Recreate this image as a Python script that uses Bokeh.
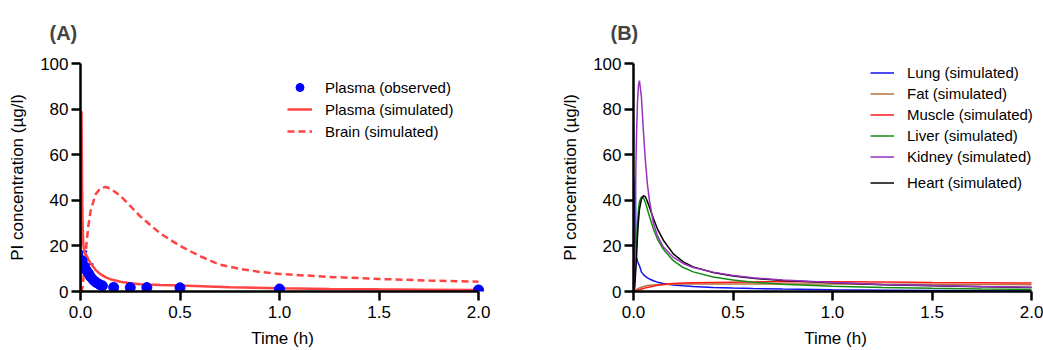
from bokeh.plotting import figure
from bokeh.layouts import row
from bokeh.models import (Legend, LegendItem, Whisker, TeeHead, ColumnDataSource,
                          Range1d, FixedTicker, PrintfTickFormatter)
from bokeh.embed import file_html
from bokeh.resources import INLINE

# ---------------- data: panel A ----------------
obs_t = [0.0083, 0.0167, 0.0283, 0.04, 0.05, 0.065, 0.0783, 0.095, 0.11, 0.1667, 0.25, 0.3333, 0.5, 1.0, 2.0]
obs_c = [13.5, 11.2, 9.4, 8.0, 6.5, 5.0, 4.0, 3.1, 2.5, 1.8, 1.7, 1.7, 1.6, 1.1, 0.7]
err_t = [0.0083, 0.04]
err_lo = [13.5, 8.0]
err_hi = [17.5, 12.0]

plasma_t = [0, 0.002, 0.004, 0.005, 0.006, 0.008, 0.01, 0.0125, 0.015, 0.02, 0.03, 0.04, 0.05,
            0.075, 0.1, 0.125, 0.15, 0.2, 0.25, 0.3, 0.4, 0.5, 0.75, 1.0, 1.25, 1.5, 1.75, 2.0]
plasma_c = [0, 35, 72, 79, 68, 45, 32, 24, 20, 17.2, 15.8, 14.0, 12.5,
            9.5, 7.6, 6.3, 5.4, 4.3, 3.6, 3.2, 2.8, 2.6, 1.9, 1.45, 1.15, 0.95, 0.8, 0.65]

brain_t = [0, 0.006, 0.01, 0.015, 0.02, 0.03, 0.04, 0.05, 0.075, 0.1, 0.125, 0.15, 0.2, 0.25, 0.3,
           0.4, 0.5, 0.6, 0.7, 0.8, 0.9, 1.0, 1.25, 1.5, 1.75, 2.0]
brain_c = [0, 0, 2, 6, 11, 21, 29, 35, 42.5, 45.3, 45.8, 45.2, 42, 37.5, 33,
           25.5, 20, 15.5, 11.8, 9.9, 8.6, 7.7, 6.4, 5.5, 4.8, 4.3]

# ---------------- data: panel B ----------------
tis_t = [0, 0.003, 0.006, 0.009, 0.012, 0.015, 0.02, 0.025, 0.03, 0.04, 0.05, 0.06, 0.07, 0.08, 0.1, 0.12,
         0.15, 0.2, 0.25, 0.3, 0.4, 0.5, 0.6, 0.75, 1.0, 1.25, 1.5, 1.75, 2.0]
lung = [0, 5, 35, 50, 22, 15, 13.3, 12.3, 11.3, 8.5, 7.4, 6.6, 6.0, 5.5, 4.7, 4.1,
        3.5, 2.9, 2.5, 2.2, 1.8, 1.5, 1.3, 1.05, 0.75, 0.55, 0.4, 0.3, 0.2]
fat = [0, 0, 0.3, 0.5, 0.7, 0.9, 1.2, 1.4, 1.6, 1.9, 2.2, 2.4, 2.6, 2.7, 2.9, 3.0,
       3.1, 3.2, 3.25, 3.3, 3.3, 3.3, 3.3, 3.3, 3.25, 3.2, 3.15, 3.1, 3.0]
muscle = [0, 0, 0.05, 0.12, 0.2, 0.35, 0.5, 0.65, 0.8, 1.1, 1.3, 1.6, 1.8, 2.0, 2.3, 2.7,
          3.1, 3.5, 3.7, 3.85, 4.0, 4.1, 4.2, 4.3, 4.3, 4.2, 4.0, 3.85, 3.7]
liver = [0, 0, 3, 9, 15, 21, 30, 36, 39.5, 41.5, 41, 39, 36, 33, 27.5, 23,
         18.5, 13.5, 10.5, 8.6, 6.4, 5.0, 4.1, 3.2, 2.3, 1.8, 1.4, 1.1, 0.9]
kidney = [0, 2, 15, 35, 55, 68, 83, 90.5, 92.5, 85, 70, 57, 47, 40, 30, 24.5,
          19.5, 15, 12.3, 10.5, 8.5, 7.0, 6.0, 5.0, 3.9, 3.1, 2.6, 2.2, 1.9]
heart = [0, 0, 2, 6, 10, 15, 24, 31, 36, 40.5, 42, 41.5, 39.5, 37, 32, 27.5,
         22.5, 16.5, 13, 10.8, 8.3, 6.8, 5.8, 4.8, 3.8, 3.0, 2.5, 2.1, 1.8]

x_ticks = [0, 0.5, 1.0, 1.5, 2.0]
y_ticks = [0, 20, 40, 60, 80, 100]

FONT = "Liberation Sans"


def make_fig(width, left, right, title, offset):
    p = figure(width=width, height=350, x_range=Range1d(0, 2.03), y_range=Range1d(0, 100),
               output_backend="svg", toolbar_location=None,
               min_border_left=left, min_border_right=right,
               min_border_top=63, min_border_bottom=59)
    p.outline_line_color = None
    p.xgrid.visible = False
    p.ygrid.visible = False
    p.title.text = title
    p.title.align = "left"
    p.title.vertical_align = "middle"
    p.title.text_font = FONT
    p.title.text_font_size = "20px"
    p.title.text_font_style = "bold"
    p.title.standoff = 38
    p.title.offset = offset
    p.xaxis.axis_label = "Time (h)"
    p.yaxis.axis_label = "PI concentration (µg/l)"
    p.xaxis.ticker = FixedTicker(ticks=x_ticks)
    p.yaxis.ticker = FixedTicker(ticks=y_ticks)
    p.xaxis.formatter = PrintfTickFormatter(format="%.1f")
    p.xaxis.bounds = (0, 2)
    for ax in (p.xaxis[0], p.yaxis[0]):
        ax.axis_line_width = 2.5
        ax.axis_line_color = "black"
        ax.major_tick_line_width = 2.5
        ax.major_tick_line_color = "black"
        ax.major_tick_out = 9
        ax.major_tick_in = 0
        ax.minor_tick_out = 0
        ax.minor_tick_in = 0
        ax.major_label_text_font = FONT
        ax.major_label_text_font_size = "17px"
        ax.major_label_text_color = "black"
        ax.axis_label_text_font = FONT
        ax.axis_label_text_font_size = "17px"
        ax.axis_label_text_font_style = "normal"
        ax.axis_label_text_color = "black"
    p.xaxis.major_label_standoff = 5
    p.yaxis.major_label_standoff = 3
    p.xaxis.axis_label_standoff = 8
    p.yaxis.axis_label_standoff = 10
    return p


def style_legend(lg, gw, gh, sp):
    lg.background_fill_alpha = 0
    lg.border_line_color = None
    lg.padding = 0
    lg.margin = 0
    lg.spacing = sp
    lg.label_height = gh
    lg.glyph_height = gh
    lg.glyph_width = gw
    lg.label_standoff = 13
    lg.label_text_font = FONT
    lg.label_text_font_size = "15px"
    lg.label_text_color = "black"


# ---------------- panel A ----------------
pa = make_fig(528, 80, 44, "(A)", -31)
RED = "#FF4444"
r_ps = pa.line(plasma_t, plasma_c, line_color=RED, line_width=2.5)
r_br = pa.line(brain_t, brain_c, line_color=RED, line_width=2.5, line_dash="7 4")
esrc = ColumnDataSource(dict(t=err_t, lo=err_lo, hi=err_hi))
wh = Whisker(source=esrc, base="t", lower="lo", upper="hi", dimension="height",
             line_color="blue", line_width=2,
             upper_head=TeeHead(size=10, line_color="blue", line_width=2), lower_head=None)
pa.add_layout(wh)
r_obs = pa.scatter(obs_t, obs_c, size=10, fill_color="blue", line_color="blue")

leg_a = Legend(items=[LegendItem(label="Plasma (observed)", renderers=[r_obs]),
                      LegendItem(label="Plasma (simulated)", renderers=[r_ps]),
                      LegendItem(label="Brain (simulated)", renderers=[r_br])],
               location=(207, 150))
style_legend(leg_a, 25, 20, 2)
pa.add_layout(leg_a)

# ---------------- panel B ----------------
pb = make_fig(515, 105, 6, "(B)", -23)
lw = 1.5
r_lung = pb.line(tis_t, lung, line_color="#1010F0", line_width=lw)
r_fat = pb.line(tis_t, fat, line_color="#B8733E", line_width=lw)
r_mus = pb.line(tis_t, muscle, line_color="#FF1A1A", line_width=lw)
r_liv = pb.line(tis_t, liver, line_color="#138A13", line_width=lw)
r_hea = pb.line(tis_t, heart, line_color="#000000", line_width=lw)
r_kid = pb.line(tis_t, kidney, line_color="#9B30C0", line_width=lw)

leg_b = Legend(items=[LegendItem(label="Lung (simulated)", renderers=[r_lung]),
                      LegendItem(label="Fat (simulated)", renderers=[r_fat]),
                      LegendItem(label="Muscle (simulated)", renderers=[r_mus]),
                      LegendItem(label="Liver (simulated)", renderers=[r_liv]),
                      LegendItem(label="Kidney (simulated)", renderers=[r_kid])],
               location=(237, 126))
style_legend(leg_b, 24, 17, 4)
pb.add_layout(leg_b)
leg_b2 = Legend(items=[LegendItem(label="Heart (simulated)", renderers=[r_hea])],
                location=(237, 100))
style_legend(leg_b2, 24, 17, 4)
pb.add_layout(leg_b2)

layout = row(pa, pb, spacing=0)
open("out.html", "w").write(file_html(layout, INLINE))
